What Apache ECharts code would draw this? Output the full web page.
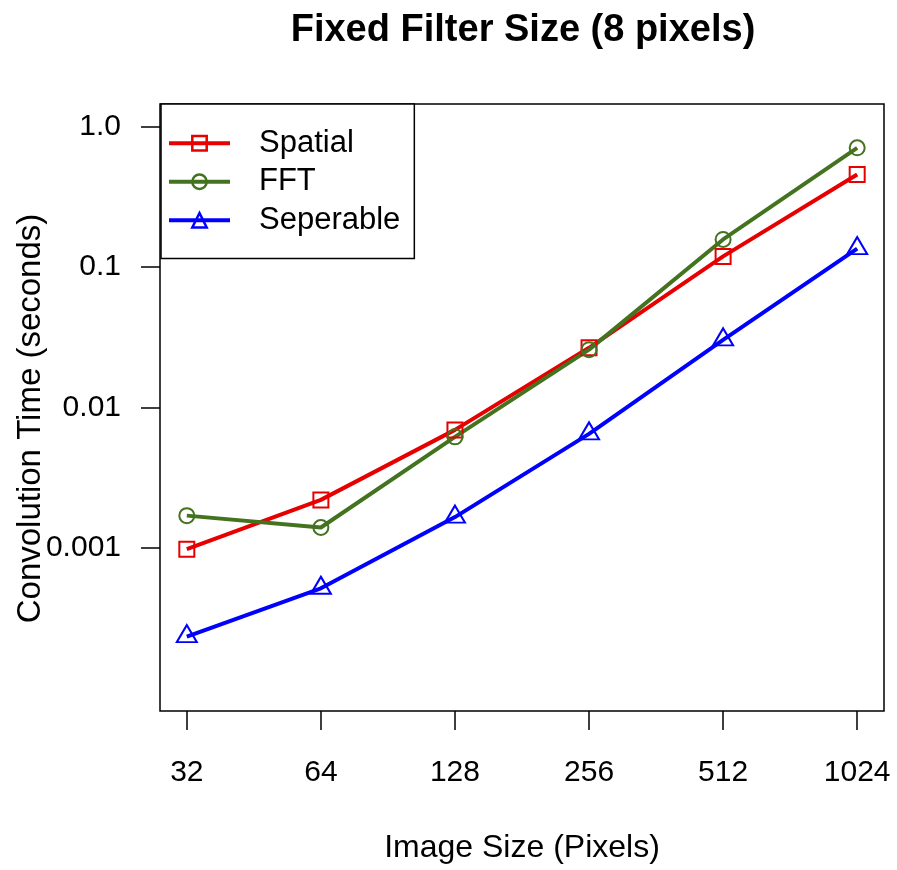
<!DOCTYPE html>
<html>
<head>
<meta charset="utf-8">
<script src="https://cdn.jsdelivr.net/npm/echarts@6/dist/echarts.min.js"></script>
<style>
  html, body { margin: 0; padding: 0; background: #fff; }
  #chart { width: 897px; height: 870px; }
</style>
</head>
<body>
<div id="chart"></div>
<script>
// Image sizes (pixels) on the x axis, convolution times (seconds) per method
const imageSizes = [32, 64, 128, 256, 512, 1024];
const spatialTimes = [0.00098, 0.00220, 0.00693, 0.0266, 0.119, 0.455];
const fftTimes = [0.00170, 0.00140, 0.00618, 0.0258, 0.157, 0.705];
const separableTimes = [0.000234, 0.000517, 0.00166, 0.00649, 0.0303, 0.135];
const yTicks = [0.001, 0.01, 0.1, 1];
const yTickLabels = ['0.001', '0.01', '0.1', '1.0'];

const FONT = '"Liberation Sans", Arial, Helvetica, sans-serif';
const RED = '#e60000';
const GREEN = '#43731f';
const BLUE = '#0000ff';

function pairs(times) {
  return imageSizes.map((s, i) => [s, times[i]]);
}

function yLabel(v) {
  for (let i = 0; i < yTicks.length; i++) {
    if (Math.abs(Math.log10(v) - Math.log10(yTicks[i])) < 1e-6) return yTickLabels[i];
  }
  return '';
}

function makeSeries(name, times, color, symbol, size, offset) {
  return {
    name: name,
    type: 'line',
    data: pairs(times),
    symbol: symbol,
    symbolSize: size,
    symbolOffset: offset || [0, 0],
    showAllSymbol: true,
    lineStyle: { color: color, width: 4 },
    itemStyle: { color: 'rgba(0,0,0,0)', borderColor: color, borderWidth: 2 },
    emphasis: { disabled: true },
    animation: false
  };
}

const chart = echarts.init(document.getElementById('chart'), null, { renderer: 'canvas' });

chart.setOption({
  backgroundColor: '#fff',
  animation: false,
  title: {
    text: 'Fixed Filter Size (8 pixels)',
    left: 518,
    textAlign: 'center',
    top: 7,
    textStyle: { fontFamily: FONT, fontSize: 38, fontWeight: 'bold', color: '#000' }
  },
  grid: {
    left: 160, top: 104, width: 724, height: 607,
    outerBoundsMode: 'none',
    containLabel: false,
    show: true, borderColor: '#000', borderWidth: 1.5, backgroundColor: 'transparent'
  },
  legend: {
    orient: 'vertical',
    left: 161, top: 104,
    itemWidth: 61, itemHeight: 18, itemGap: 0,
    padding: [20, 14, 19, 6],
    borderColor: '#000', borderWidth: 1.5,
    backgroundColor: '#fff',
    selectedMode: false,
    lineStyle: { width: 4 },
    itemStyle: { borderWidth: 2.5 },
    textStyle: { fontFamily: FONT, fontSize: 31, color: '#000', lineHeight: 38.5, padding: [0, 0, 0, 24] },
    data: ['Spatial', 'FFT', 'Seperable']
  },
  xAxis: {
    type: 'log',
    logBase: 2,
    min: 32 / Math.pow(2, 0.2),
    max: 1024 * Math.pow(2, 0.2),
    axisLine: { show: false },
    splitLine: { show: false },
    minorTick: { show: false },
    axisTick: { show: true, length: 19, lineStyle: { color: '#000', width: 1.5 }, customValues: imageSizes },
    axisLabel: {
      customValues: imageSizes,
      fontFamily: FONT, fontSize: 30, color: '#000', margin: 47,
      formatter: v => String(Math.round(v))
    },
    name: 'Image Size (Pixels)',
    nameLocation: 'middle',
    nameGap: 121,
    nameMoveOverlap: false,
    nameTextStyle: { fontFamily: FONT, fontSize: 32, color: '#000' }
  },
  yAxis: {
    type: 'log',
    logBase: 10,
    min: Math.pow(10, -4.16),
    max: Math.pow(10, 0.16),
    axisLine: { show: false },
    splitLine: { show: false },
    minorTick: { show: false },
    axisTick: { show: true, length: 19, lineStyle: { color: '#000', width: 1.5 }, customValues: yTicks },
    axisLabel: {
      customValues: yTicks,
      fontFamily: FONT, fontSize: 30, color: '#000', margin: 39,
      formatter: yLabel
    },
    name: 'Convolution Time (seconds)',
    nameLocation: 'middle',
    nameGap: 113,
    nameMoveOverlap: false,
    nameTextStyle: { fontFamily: FONT, fontSize: 33, color: '#000', padding: [0, 22, 0, 0] }
  },
  series: [
    makeSeries('Spatial', spatialTimes, RED, 'rect', 15),
    makeSeries('FFT', fftTimes, GREEN, 'circle', 15),
    makeSeries('Seperable', separableTimes, BLUE, 'triangle', [20, 17], [0, -3])
  ]
});
</script>
</body>
</html>
